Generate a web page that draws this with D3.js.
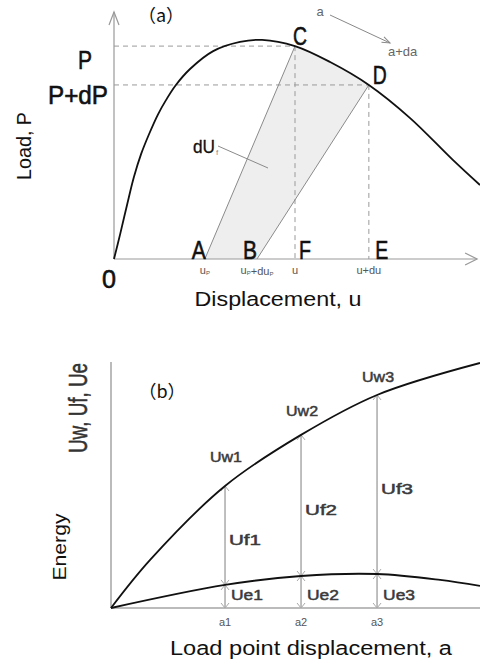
<!DOCTYPE html>
<html>
<head>
<meta charset="utf-8">
<script src="https://cdn.jsdelivr.net/npm/d3@7"></script>
<style>
  html, body { margin: 0; padding: 0; background: #fff; }
  svg { display: block; }
  text { font-family: "Liberation Sans", Arial, sans-serif; }
</style>
</head>
<body>
<svg id="chart" width="480" height="663"></svg>
<script>
'use strict';

// (a) load - displacement curve
var dispU = [0, 0.17, 0.36, 0.55, 0.75, 0.97, 1.22, 1.44, 1.69, 2.10, 2.74, 3.48, 4.09, 5.0, 5.97, 7.04, 8.18, 9.36, 10.11];
var loadP = [0, 1.00, 2.17, 3.29, 4.22, 5.02, 5.82, 6.39, 6.95, 7.63, 8.35, 8.72, 8.80, 8.55, 7.91, 6.99, 5.66, 3.98, 2.97];

// points C and D on the curve, A and B on the axis
var pointC = {u: 5.0, p: 8.55};
var pointD = {u: 7.04, p: 6.99};
var uA = 2.51;
var uB = 3.95;
var axisTicksA = ['u_P', 'u_P+du_P', 'u', 'u+du'];

// (b) energy vs load point displacement
var dispA = [0, 1.06, 3.09, 5.15, 7.21, 10];
var energyUw = [0, 1.94, 4.92, 6.98, 8.59, 9.88];
var dispAe = [0, 3.09, 5.15, 7.21, 8.92, 10];
var energyUe = [0, 0.93, 1.29, 1.37, 1.13, 0.89];

var marksA = [3.09, 5.15, 7.21];
var marksUw = [4.92, 6.98, 8.59];
var marksUe = [0.93, 1.29, 1.37];
var uwLabels = ['Uw1', 'Uw2', 'Uw3'];
var ufLabels = ['Uf1', 'Uf2', 'Uf3'];
var ueLabels = ['Ue1', 'Ue2', 'Ue3'];
var aLabels = ['a1', 'a2', 'a3'];

var svg = d3.select('#chart');

// little helpers
function chevron(g, x, y, angle, len, spread, color, width){
  g.append('path')
    .attr('d', 'M' + (-len) + ',' + (-spread) + 'L0,0L' + (-len) + ',' + spread)
    .attr('transform', 'translate(' + x + ',' + y + ') rotate(' + angle + ')')
    .attr('fill', 'none')
    .attr('stroke', color)
    .attr('stroke-width', width || 1);
}

function label(g, txt, x, y, size, opts){
  opts = opts || {};
  var t = g.append('text')
    .attr('x', x).attr('y', y)
    .attr('font-size', size)
    .attr('fill', opts.fill || '#111')
    .attr('text-anchor', opts.anchor || 'middle')
    .text(txt);
  if(opts.len){
    t.attr('textLength', opts.len).attr('lengthAdjust', 'spacingAndGlyphs');
  }
  if(opts.weight){ t.attr('font-weight', opts.weight); }
  if(opts.family){ t.style('font-family', opts.family); }
  if(opts.heavy){
    // thicken the strokes a little, like the gothic font of the original
    t.attr('stroke', opts.fill || '#111').attr('stroke-width', opts.heavy);
  }
  if(opts.rotate){
    t.attr('x', 0).attr('y', 0)
      .attr('transform', 'translate(' + x + ',' + y + ') rotate(' + opts.rotate + ')');
  }
  return t;
}

// ---------- panel (a) ----------
var xA = d3.scaleLinear().domain([0, 10]).range([114, 476]);
var yA = d3.scaleLinear().domain([0, 10]).range([259, 10]);
var gA = svg.append('g');

var curveA = dispU.map(function(u, i){ return {u: u, p: loadP[i]}; });

// shaded strip A-C-D-B, area under curve clipped by the two unloading lines
var cExt = {u: pointC.u + 0.4 * (pointC.u - uA), p: pointC.p * 1.4};
var dExt = {u: pointD.u + 0.4 * (pointD.u - uB), p: pointD.p * 1.4};
var clipPts = [[xA(uA), yA(0)], [xA(cExt.u), yA(cExt.p)], [xA(dExt.u), yA(dExt.p)], [xA(uB), yA(0)]];
gA.append('clipPath').attr('id', 'strip')
  .append('polygon').attr('points', clipPts.map(function(p){ return p.join(','); }).join(' '));

var areaA = d3.area()
  .x(function(d){ return xA(d.u); })
  .y0(yA(0))
  .y1(function(d){ return yA(d.p); })
  .curve(d3.curveCatmullRom.alpha(0.5));

gA.append('path').datum(curveA)
  .attr('d', areaA)
  .attr('fill', '#eeeeee')
  .attr('clip-path', 'url(#strip)');

// dashed guides
var dash = '5,4';
[[0, pointC.p, pointC.u, pointC.p], [0, pointD.p, pointD.u, pointD.p],
 [pointC.u, pointC.p, pointC.u, 0], [pointD.u, pointD.p, pointD.u, 0]].forEach(function(s){
  gA.append('line')
    .attr('x1', xA(s[0])).attr('y1', yA(s[1]))
    .attr('x2', xA(s[2])).attr('y2', yA(s[3]))
    .attr('stroke', '#9a9a9a').attr('stroke-width', 1)
    .attr('stroke-dasharray', dash);
});

// unloading lines
[[uA, pointC], [uB, pointD]].forEach(function(s){
  gA.append('line')
    .attr('x1', xA(s[0])).attr('y1', yA(0))
    .attr('x2', xA(s[1].u)).attr('y2', yA(s[1].p))
    .attr('stroke', '#8a8a8a').attr('stroke-width', 1);
});

// axes
gA.append('line')
  .attr('x1', xA(0)).attr('y1', yA(0)).attr('x2', xA(10.03)).attr('y2', yA(0))
  .attr('stroke', '#999').attr('stroke-width', 1.2);
gA.append('line')
  .attr('x1', xA(0)).attr('y1', yA(0)).attr('x2', xA(0)).attr('y2', yA(9.92))
  .attr('stroke', '#999').attr('stroke-width', 1.2);
chevron(gA, xA(10.03), yA(0), 0, 12, 6, '#999', 1.2);
chevron(gA, xA(0), yA(9.92), -90, 13, 5, '#999', 1.2);

// load curve
var lineA = d3.line()
  .x(function(d){ return xA(d.u); })
  .y(function(d){ return yA(d.p); })
  .curve(d3.curveCatmullRom.alpha(0.5));

gA.append('path').datum(curveA)
  .attr('d', lineA)
  .attr('fill', 'none')
  .attr('stroke', '#111')
  .attr('stroke-width', 1.8);

// labels of panel (a)
var big = {heavy: 0.6};
label(gA, '（a）', 161, 22, 18, {family: '"Noto Sans CJK JP", sans-serif'});
label(gA, 'P', 85, yA(pointC.p) + 23, 26, {len: 14, heavy: 0.6});
label(gA, 'P+dP', 78, yA(pointD.p) + 19, 26, {len: 60, heavy: 0.6});
label(gA, 'C', xA(pointC.u) + 5, yA(pointC.p) - 1, 26, {len: 14, heavy: 0.6});
label(gA, 'D', xA(pointD.u) + 11, yA(pointD.p) - 1, 26, {len: 14, heavy: 0.6});
label(gA, 'A', xA(uA) - 6, yA(0), 26, {len: 14, heavy: 0.6});
label(gA, 'B', xA(uB) - 7, yA(0), 26, {len: 14, heavy: 0.6});
label(gA, 'F', xA(pointC.u) + 10, yA(0), 26, {len: 12, heavy: 0.6});
label(gA, 'E', xA(pointD.u) + 13, yA(0), 26, {len: 13, heavy: 0.6});
label(gA, '0', xA(0) - 5, yA(0) + 29, 26, {len: 14, heavy: 0.6});

// tick labels with subscripts
var tickX = [uA, uB, pointC.u, pointD.u];
axisTicksA.forEach(function(s, i){
  var t = gA.append('text')
    .attr('x', xA(tickX[i])).attr('y', yA(0) + 15)
    .attr('font-size', 11).attr('fill', '#555')
    .attr('text-anchor', 'middle');
  s.split(/(_P)/).forEach(function(part){
    if(part === '_P'){
      t.append('tspan').attr('font-size', 6).attr('dy', 1).text('P');
      t.append('tspan').attr('dy', -1).text('');
    } else if(part){
      t.append('tspan').text(part);
    }
  });
});

// dU_f with leader line
label(gA, 'dU', 193, 153, 18, {anchor: 'start', len: 22, heavy: 0.3});
label(gA, 'f', 216, 155, 8, {anchor: 'start', fill: '#888'});
gA.append('line')
  .attr('x1', 218).attr('y1', 146).attr('x2', 268).attr('y2', 168)
  .attr('stroke', '#8a8a8a').attr('stroke-width', 1);

// a -> a+da
label(gA, 'a', 320, 16, 13, {fill: '#666'});
label(gA, 'a+da', 388, 56, 13, {fill: '#666', anchor: 'start'});
gA.append('line')
  .attr('x1', 330).attr('y1', 15).attr('x2', 390).attr('y2', 43)
  .attr('stroke', '#888').attr('stroke-width', 1);
chevron(gA, 390, 43, 25, 8, 3, '#888', 1);

label(gA, 'Load, P', 31, 146, 20, {rotate: -90, len: 68});
label(gA, 'Displacement, u', 278, 306, 20, {len: 167});

// ---------- panel (b) ----------
var xB = d3.scaleLinear().domain([0, 10]).range([111, 480]);
var yB = d3.scaleLinear().domain([0, 10]).range([608, 360]);
var gB = svg.append('g');

gB.append('line')
  .attr('x1', xB(0)).attr('y1', yB(0)).attr('x2', xB(10)).attr('y2', yB(0))
  .attr('stroke', '#bbb').attr('stroke-width', 2);
gB.append('line')
  .attr('x1', xB(0)).attr('y1', yB(0)).attr('x2', xB(0)).attr('y2', yB(9.92))
  .attr('stroke', '#bbb').attr('stroke-width', 2);

// vertical double arrows
marksA.forEach(function(a, i){
  var x = xB(a);
  gB.append('line')
    .attr('x1', x).attr('y1', yB(0)).attr('x2', x).attr('y2', yB(marksUw[i]))
    .attr('stroke', '#aaa').attr('stroke-width', 1.5);
  chevron(gB, x, yB(marksUw[i]), -90, 5, 4, '#aaa', 1);
  chevron(gB, x, yB(marksUe[i]), -90, 5, 4, '#aaa', 1);
  chevron(gB, x, yB(marksUe[i]), 90, 5, 4, '#aaa', 1);
  chevron(gB, x, yB(0), 90, 5, 4, '#aaa', 1);
});

var lineB = d3.line()
  .x(function(d){ return xB(d[0]); })
  .y(function(d){ return yB(d[1]); })
  .curve(d3.curveCatmullRom.alpha(0.5));

gB.append('path').datum(dispA.map(function(a, i){ return [a, energyUw[i]]; }))
  .attr('d', lineB).attr('fill', 'none')
  .attr('stroke', '#111').attr('stroke-width', 1.8);
gB.append('path').datum(dispAe.map(function(a, i){ return [a, energyUe[i]]; }))
  .attr('d', lineB).attr('fill', 'none')
  .attr('stroke', '#111').attr('stroke-width', 1.8);

var uwDy = [-24, -19, -13];
var small = {fill: '#3a3a3a', heavy: 0.5, len: 32};
marksA.forEach(function(a, i){
  var x = xB(a);
  label(gB, uwLabels[i], x + 1, yB(marksUw[i]) + uwDy[i], 15, small);
  label(gB, ufLabels[i], x + 4, (yB(marksUw[i]) + yB(marksUe[i])) / 2 + 10, 15,
    {fill: '#3a3a3a', heavy: 0.5, len: 32, anchor: 'start'});
  label(gB, ueLabels[i], x + 6, yB(0) - 8, 15, {fill: '#3a3a3a', heavy: 0.5, len: 32, anchor: 'start'});
  label(gB, aLabels[i], x, yB(0) + 18, 11, {fill: '#555'});
});

label(gB, '（b）', 162, 398, 18, {family: '"Noto Sans CJK JP", sans-serif'});
label(gB, 'Uw, Uf, Ue', 87, 408, 26, {rotate: -90, len: 90, fill: '#333', heavy: 0.6});
label(gB, 'Energy', 66, 547, 18, {rotate: -90, len: 67});
label(gB, 'Load point displacement, a', 311, 655, 20, {len: 282});
</script>
</body>
</html>
